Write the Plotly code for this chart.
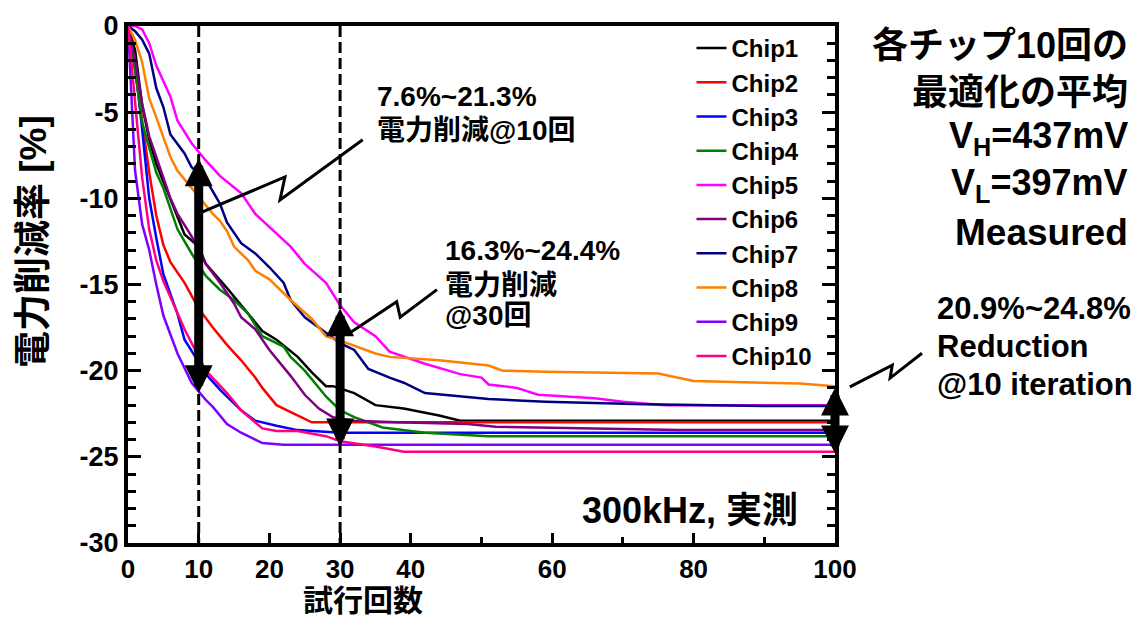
import plotly.graph_objects as go

# ---------------- data ----------------
chip_names = ["Chip1", "Chip2", "Chip3", "Chip4", "Chip5",
              "Chip6", "Chip7", "Chip8", "Chip9", "Chip10"]
chip_colors = ["#000000", "#FF0000", "#0000FF", "#008000", "#FF00FF",
               "#800080", "#000080", "#FF8000", "#8000FF", "#FF0080"]

chip1_x = [0, 1, 2, 3, 4, 5, 6, 7, 8, 10, 11, 14, 16, 17, 19, 21, 24, 26, 28, 29, 32, 35, 39, 44, 47, 100]
chip1_y = [0, -1.4, -4.6, -6.6, -8.0, -9.0, -10.1, -11.0, -12.1, -12.8, -13.8, -15.2, -16.2, -16.7, -17.7,
           -18.2, -19.2, -20.1, -20.9, -20.9, -21.3, -22.0, -22.2, -22.6, -22.9, -22.9]

chip2_x = [0, 1, 2, 3, 4, 5, 6, 8, 10, 12, 14, 16, 18, 19, 21, 24, 26, 100]
chip2_y = [0, -2.5, -5.5, -8.5, -11.0, -12.7, -13.7, -14.9, -16.4, -17.5, -18.5, -19.4, -20.4, -21.0,
           -22.0, -22.6, -23.0, -23.0]

chip3_x = [0, 1, 2, 3, 4, 5, 7, 8, 10, 11, 13, 16, 18, 21, 24, 30, 100]
chip3_y = [0, -2.2, -6.0, -10.0, -12.3, -14.4, -16.7, -18.2, -19.5, -20.2, -21.1, -22.3, -22.9, -23.2,
           -23.45, -23.6, -23.6]

chip4_x = [0, 1, 2, 3, 4, 5, 6, 7, 9, 11, 13, 15, 17, 19, 22, 23, 25, 28, 30, 32, 36, 42, 51, 100]
chip4_y = [0, -2.6, -5.6, -7.1, -8.5, -9.4, -10.6, -11.8, -13.2, -14.5, -15.3, -15.9, -16.7, -18.0,
           -18.6, -19.2, -20.0, -21.5, -22.3, -22.7, -23.3, -23.6, -23.8, -23.8]

chip5_x = [0, 1, 2, 3, 4, 6, 7, 9, 11, 13, 16, 18, 23, 25, 28, 30, 32, 35, 37, 42, 47, 50, 51, 55,
           58, 62, 66, 70, 76, 100]
chip5_y = [0, 0, -0.2, -1.0, -2.3, -4.1, -5.5, -6.8, -7.8, -8.7, -9.7, -10.9, -12.8, -13.8, -14.9,
           -16.2, -17.2, -18.0, -18.9, -19.6, -20.2, -20.4, -20.8, -21.0, -21.4, -21.5, -21.6, -21.8,
           -22.0, -22.0]

chip6_x = [0, 1, 2, 3, 4, 5, 6, 7, 9, 11, 13, 15, 16, 18, 20, 23, 25, 27, 29, 32, 38, 48, 52, 78, 100]
chip6_y = [0, -2.0, -4.5, -6.4, -7.6, -8.8, -10.0, -10.9, -12.2, -13.8, -14.9, -16.1, -16.9, -17.6,
           -18.8, -20.3, -21.4, -22.2, -22.7, -22.9, -23.0, -23.1, -23.25, -23.45, -23.45]

chip7_x = [0, 1, 2, 3, 4, 5, 6, 8, 9, 11, 13, 14, 16, 18, 20, 22, 23, 25, 28, 30, 32, 34, 37, 39, 42,
           47, 51, 59, 73, 90, 100]
chip7_y = [0, -0.3, -0.8, -1.6, -3.6, -4.7, -6.3, -7.4, -8.2, -8.9, -10.3, -11.4, -12.6, -13.2, -14.0,
           -14.9, -15.9, -16.9, -17.8, -18.4, -18.8, -19.9, -20.4, -20.7, -21.3, -21.5, -21.65, -21.8,
           -21.95, -22.05, -22.05]

chip8_x = [0, 1, 2, 3, 4, 5, 6, 7, 9, 12, 13, 14, 15, 17, 18, 20, 23, 26, 28, 31, 35, 37, 44, 51, 53,
           59, 75, 80, 95, 100]
chip8_y = [0, -0.8, -2.1, -4.2, -5.3, -6.4, -7.6, -8.4, -9.4, -10.9, -11.3, -11.9, -12.8, -13.6, -14.2,
           -14.7, -15.9, -17.0, -18.0, -18.4, -19.0, -19.2, -19.4, -19.7, -20.0, -20.06, -20.16, -20.6,
           -20.75, -20.9]

chip9_x = [0, 1, 2, 3, 4, 5, 7, 9, 11, 12, 14, 16, 18, 19, 22, 100]
chip9_y = [0, -8.4, -11.5, -13.0, -15.0, -16.8, -19.0, -20.7, -21.7, -22.1, -23.1, -23.6, -24.0, -24.2,
           -24.3, -24.3]

chip10_x = [0, 1, 2, 3, 4, 5, 7, 8, 10, 11, 14, 16, 19, 21, 24, 28, 30, 35, 39, 100]
chip10_y = [0, -4.5, -8.8, -11.8, -13.6, -14.8, -16.7, -17.6, -19.2, -20.0, -21.3, -22.3, -23.35, -23.5,
            -23.5, -23.8, -24.1, -24.4, -24.7, -24.7]

chip_x = [chip1_x, chip2_x, chip3_x, chip4_x, chip5_x, chip6_x, chip7_x, chip8_x, chip9_x, chip10_x]
chip_y = [chip1_y, chip2_y, chip3_y, chip4_y, chip5_y, chip6_y, chip7_y, chip8_y, chip9_y, chip10_y]

x_tickvals = [0, 10, 20, 30, 40, 60, 80, 100]
y_tickvals = [0, -5, -10, -15, -20, -25, -30]

# reduction ranges (iteration, top, bottom)
range_iter = [10, 30, 100]
range_top = [-7.6, -16.3, -20.9]
range_bottom = [-21.3, -24.4, -24.8]
dashed_iters = [10, 30]

# zig-zag leader lines (data coords for the first two)
zig1_x = [10.2, 22.2, 21.5, 33.2]
zig1_y = [-10.85, -8.76, -10.1, -6.6]
zig2_x = [31.4, 38.0, 38.5, 43.7]
zig2_y = [-17.8, -16.0, -16.9, -15.3]
# third leader, outside the plot (paper coords)
zig3_x = [1.021, 1.081, 1.078, 1.123]
zig3_y = [0.302, 0.344, 0.319, 0.367]

LAT = "Liberation Sans, Arial, Noto Sans CJK JP"
CJK = "Liberation Sans, Noto Sans CJK JP"

fig = go.Figure()
for name, color, xs, ys in zip(chip_names, chip_colors, chip_x, chip_y):
    fig.add_trace(go.Scatter(x=xs, y=ys, mode="lines", name=name,
                             line=dict(color=color, width=2.5)))

# dashed verticals
for xv in dashed_iters:
    fig.add_shape(type="line", x0=xv, x1=xv, y0=0, y1=-30, xref="x", yref="y",
                  line=dict(color="black", width=3, dash="11px,5px"), layer="above")

# zig-zag leaders
def path_from(xs, ys):
    return "M" + " L".join(f"{a},{b}" for a, b in zip(xs, ys))

fig.add_shape(type="path", path=path_from(zig1_x, zig1_y), xref="x", yref="y",
              line=dict(color="black", width=3), layer="above")
fig.add_shape(type="path", path=path_from(zig2_x, zig2_y), xref="x", yref="y",
              line=dict(color="black", width=3), layer="above")
fig.add_shape(type="path", path=path_from(zig3_x, zig3_y), xref="paper", yref="paper",
              line=dict(color="black", width=3), layer="above")

annotations = []
# double arrows
for xi, yt, yb in zip(range_iter, range_top, range_bottom):
    annotations.append(dict(x=xi, y=yb, ax=xi, ay=yt, xref="x", yref="y", axref="x", ayref="y",
                            text="", showarrow=True, arrowhead=2, startarrowhead=2,
                            arrowside="end+start", arrowwidth=9, arrowsize=0.62,
                            startarrowsize=0.62, arrowcolor="black"))

def txt(text, x, y, size, xanchor="left", font=LAT, angle=0):
    annotations.append(dict(text=text, x=x, y=y, xref="paper", yref="paper", showarrow=False,
                            xanchor=xanchor, yanchor="middle", textangle=angle,
                            font=dict(family=font, size=size, color="black", weight="bold")))

txt("7.6%~21.3%", 0.3494, 0.8646, 28)
txt("電力削減@10回", 0.3494, 0.7988, 28, font=CJK)
txt("16.3%~24.4%", 0.446, 0.5667, 28)
txt("電力削減", 0.446, 0.499, 28, font=CJK)
txt("@30回", 0.446, 0.441, 28, font=CJK)
txt("20.9%~24.8%", 1.1414, 0.4545, 31)
txt("Reduction", 1.1414, 0.381, 31)
txt("@10 iteration", 1.1414, 0.3075, 31)
txt("各チップ10回の", 1.4173, 0.9632, 36, xanchor="right", font=CJK)
txt("最適化の平均", 1.4173, 0.8723, 36, xanchor="right", font=CJK)
txt("V<sub>H</sub>=437mV", 1.4173, 0.7834, 36, xanchor="right")
txt("V<sub>L</sub>=397mV", 1.4173, 0.6925, 36, xanchor="right")
txt("Measured", 1.4173, 0.6015, 37, xanchor="right")
txt("300kHz, 実測", 0.9505, 0.0638, 36, xanchor="right", font=CJK)
txt("試行回数", 0.3324, -0.112, 30, xanchor="center", font=CJK)
txt("電力削減率 [%]", -0.1344, 0.5841, 37, xanchor="center", font=CJK, angle=-90)

fig.update_layout(
    width=1147, height=619,
    margin=dict(l=128, r=312, t=26, b=76),
    paper_bgcolor="white", plot_bgcolor="white",
    annotations=annotations,
    showlegend=True,
    legend=dict(x=0.797, y=1.0, xanchor="left", yanchor="top",
                bgcolor="rgba(255,255,255,0)", borderwidth=0,
                font=dict(family=LAT, size=24, color="black", weight="bold"),
                itemwidth=30, maxheight=1),
)
fig.update_xaxes(range=[0, 100], tickvals=x_tickvals, ticktext=[str(v) for v in x_tickvals],
                 showgrid=False, zeroline=False, showline=True, linecolor="black", linewidth=4,
                 mirror=True, ticks="inside", ticklen=10, tickwidth=3, tickcolor="black",
                 minor=dict(dtick=10, tick0=0, ticks="inside", ticklen=6, tickwidth=3, tickcolor="black"),
                 tickfont=dict(family=LAT, size=26, color="black", weight="bold"))
fig.update_yaxes(range=[-30, 0], tickvals=y_tickvals, ticktext=[str(v) for v in y_tickvals],
                 showgrid=False, zeroline=False, showline=True, linecolor="black", linewidth=4,
                 mirror="allticks", ticks="inside", ticklen=13, tickwidth=3, tickcolor="black",
                 minor=dict(dtick=1, tick0=0, ticks="inside", ticklen=8, tickwidth=3, tickcolor="black"),
                 tickfont=dict(family=LAT, size=27, color="black", weight="bold"))

fig.write_html("out.html")
